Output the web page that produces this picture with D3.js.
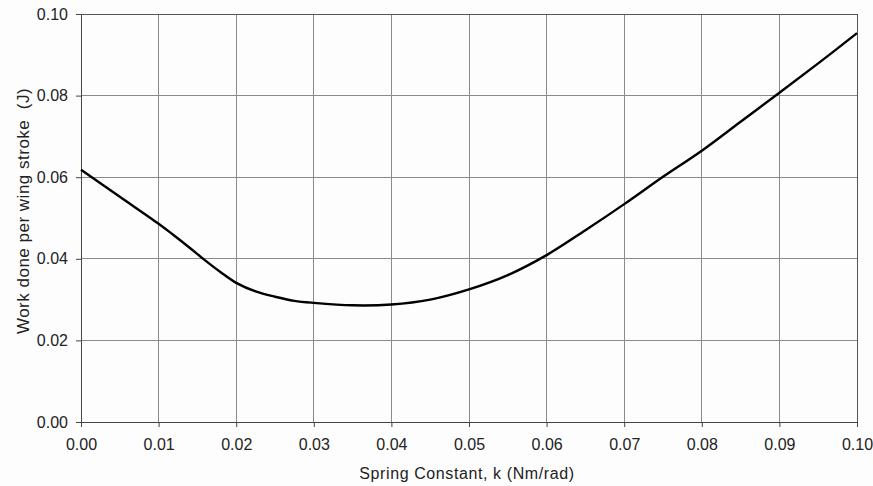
<!DOCTYPE html>
<html>
<head>
<meta charset="utf-8">
<script src="https://cdn.jsdelivr.net/npm/d3@7"></script>
<style>
  html, body { margin: 0; padding: 0; background: #fdfdfd; }
  svg { display: block; }
  text { font-family: "Liberation Sans", Arial, sans-serif; fill: #222; }
</style>
</head>
<body>
<svg id="chart" width="873" height="486"></svg>
<script>
// Spring constant (Nm/rad) and work done per wing stroke (J)
const springK = [0, 0.005, 0.01, 0.012, 0.014, 0.016, 0.018, 0.02, 0.0225, 0.025, 0.0275, 0.03, 0.035, 0.04, 0.045, 0.05, 0.055, 0.06, 0.065, 0.07, 0.075, 0.08, 0.085, 0.09, 0.095, 0.10];
const workDone = [0.0618, 0.0552, 0.0486, 0.0457, 0.0427, 0.0396, 0.0367, 0.0341, 0.0320, 0.0307, 0.0297, 0.0292, 0.0286, 0.0288, 0.0300, 0.0325, 0.0360, 0.0409, 0.0470, 0.0534, 0.0601, 0.0665, 0.0736, 0.0807, 0.0879, 0.0953];
const xTicks = [0, 0.01, 0.02, 0.03, 0.04, 0.05, 0.06, 0.07, 0.08, 0.09, 0.10];
const yTicks = [0, 0.02, 0.04, 0.06, 0.08, 0.10];

const svg = d3.select("#chart");
const plotL = 81, plotR = 857, plotT = 14, plotB = 422;

const x = d3.scaleLinear().domain([0, 0.10]).range([plotL, plotR]);
const y = d3.scaleLinear().domain([0, 0.10]).range([plotB, plotT]);

svg.append("rect").attr("x", plotL).attr("y", plotT)
  .attr("width", plotR - plotL).attr("height", plotB - plotT)
  .attr("fill", "#fdfdfd");

// grid
svg.append("g").selectAll("line").data(xTicks).join("line")
  .attr("x1", d => x(d)).attr("x2", d => x(d))
  .attr("y1", plotT).attr("y2", plotB)
  .attr("stroke", "#8a8a8a").attr("stroke-width", 1).attr("shape-rendering", "crispEdges");
svg.append("g").selectAll("line").data(yTicks).join("line")
  .attr("x1", plotL).attr("x2", plotR)
  .attr("y1", d => y(d)).attr("y2", d => y(d))
  .attr("stroke", "#8a8a8a").attr("stroke-width", 1).attr("shape-rendering", "crispEdges");

// axes
const fmt = d3.format(".2f");
const xAxis = svg.append("g").attr("transform", `translate(0,${plotB})`)
  .call(d3.axisBottom(x).tickValues(xTicks).tickFormat(fmt).tickSize(5).tickPadding(12));
const yAxis = svg.append("g").attr("transform", `translate(${plotL},0)`)
  .call(d3.axisLeft(y).tickValues(yTicks).tickFormat(fmt).tickSize(5).tickPadding(8));
[xAxis, yAxis].forEach(a => {
  a.attr("font-size", 16).attr("font-family", "\"Liberation Sans\", Arial, sans-serif");
  a.select(".domain").attr("stroke", "#444");
  a.selectAll(".tick line").attr("stroke", "#444");
  a.selectAll(".tick text").attr("fill", "#222");
});

// frame top/right
svg.append("line").attr("x1", plotL).attr("x2", plotR).attr("y1", plotT).attr("y2", plotT)
  .attr("stroke", "#555").attr("shape-rendering", "crispEdges");
svg.append("line").attr("x1", plotR).attr("x2", plotR).attr("y1", plotT).attr("y2", plotB)
  .attr("stroke", "#555").attr("shape-rendering", "crispEdges");

// curve
const line = d3.line().x((d, i) => x(springK[i])).y(d => y(d)).curve(d3.curveCatmullRom.alpha(0.5));
svg.append("path").datum(workDone).attr("d", line)
  .attr("fill", "none").attr("stroke", "#000").attr("stroke-width", 2.4);

// titles
svg.append("text").attr("x", 467).attr("y", 479)
  .attr("text-anchor", "middle").attr("font-size", 16).attr("letter-spacing", 0.6)
  .text("Spring Constant, k (Nm/rad)");
svg.append("text").attr("transform", `translate(29,211) rotate(-90)`)
  .attr("text-anchor", "middle").attr("font-size", 17).attr("letter-spacing", 0.5)
  .attr("xml:space", "preserve")
  .text("Work done per wing stroke  (J)");
</script>
</body>
</html>
